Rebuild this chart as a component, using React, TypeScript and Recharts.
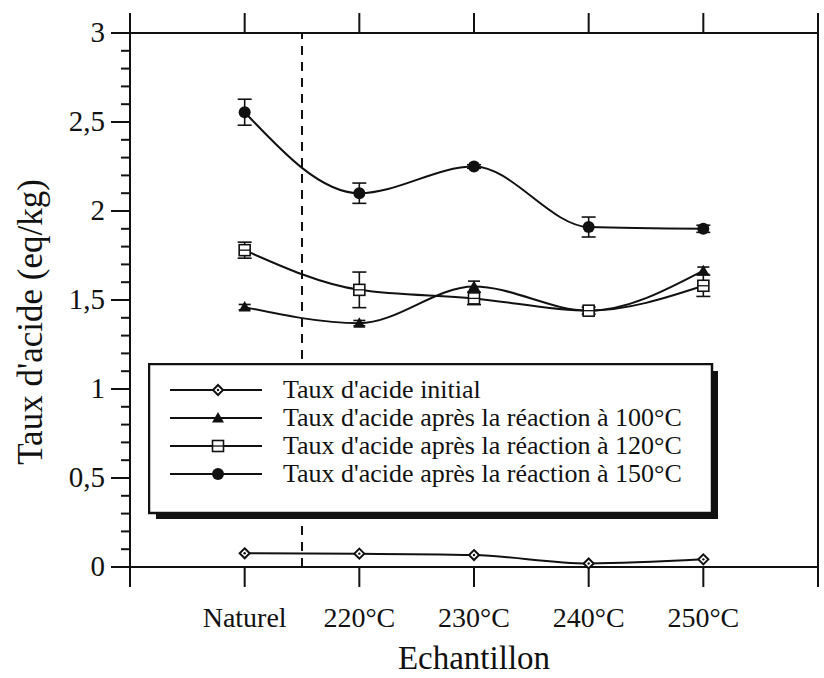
import React from "react";
import {
	LineChart,
	Line,
	XAxis,
	YAxis,
	ErrorBar,
	ReferenceLine,
	Legend,
} from "recharts";

// Samples on the x axis (placed at 1..5, axis runs 0..6)
const categories = ["Naturel", "220°C", "230°C", "240°C", "250°C"];

// Acid content (eq/kg)
const initial = [0.077, 0.075, 0.067, 0.02, 0.043];
const after100 = [1.46, 1.37, 1.576, 1.44, 1.665];
const after100Err = [0.015, 0.015, 0.03, 0.015, 0.02];
const after120 = [1.78, 1.557, 1.509, 1.44, 1.58];
const after120Err = [0.045, 0.1, 0.035, 0.02, 0.06];
const after150 = [2.555, 2.1, 2.25, 1.91, 1.9];
const after150Err = [0.073, 0.057, 0.01, 0.056, 0.02];

const seriesNames = [
	"Taux d'acide initial",
	"Taux d'acide après la réaction à 100°C",
	"Taux d'acide après la réaction à 120°C",
	"Taux d'acide après la réaction à 150°C",
];

const xTicks = [0, 1, 2, 3, 4, 5, 6];
const yMajor = [0, 0.5, 1, 1.5, 2, 2.5, 3];
const yTicks = Array.from({ length: 31 }, (_, i) => i / 10);

const data = categories.map((c, i) => ({
	x: i + 1,
	name: c,
	initial: initial[i],
	r100: after100[i],
	r100e: after100Err[i],
	r120: after120[i],
	r120e: after120Err[i],
	r150: after150[i],
	r150e: after150Err[i],
}));

const FONT = "'Liberation Serif', 'Times New Roman', serif";
const INK = "#111";

const isMajor = (v: number) => yMajor.some((m) => Math.abs(m - v) < 1e-6);
const fmt = (v: number) => String(v).replace(".", ",");

type Shape = "diamond" | "triangle" | "square" | "circle";

function Marker({ cx, cy, shape }: { cx: number; cy: number; shape: Shape }) {
	if (cx == null || cy == null) return null;
	switch (shape) {
		case "diamond":
			return (
				<g>
					<polygon
						points={`${cx},${cy - 5} ${cx + 5},${cy} ${cx},${cy + 5} ${cx - 5},${cy}`}
						fill="#fff"
						stroke={INK}
						strokeWidth={2}
					/>
					<circle cx={cx} cy={cy} r={1.2} fill={INK} />
				</g>
			);
		case "triangle":
			return (
				<polygon
					points={`${cx},${cy - 6} ${cx - 6},${cy + 4.5} ${cx + 6},${cy + 4.5}`}
					fill={INK}
				/>
			);
		case "square":
			return (
				<g>
					<rect x={cx - 5.5} y={cy - 5.5} width={11} height={11} fill="#fff" stroke={INK} strokeWidth={1.6} />
					<line x1={cx - 5.5} x2={cx + 5.5} y1={cy} y2={cy} stroke={INK} strokeWidth={1.3} />
				</g>
			);
		default:
			return <circle cx={cx} cy={cy} r={6} fill={INK} />;
	}
}

const shapes: Shape[] = ["diamond", "triangle", "square", "circle"];

function dotFor(shape: Shape) {
	return (p: any) => <Marker key={`${shape}-${p.index}`} cx={p.cx} cy={p.cy} shape={shape} />;
}

function LeftTick(props: any) {
	const { x, y, payload } = props;
	const v = payload.value as number;
	const major = isMajor(v);
	const len = major ? 19 : 9;
	return (
		<g>
			<line x1={x - len} x2={x} y1={y} y2={y} stroke={INK} strokeWidth={2} />
			{major && (
				<text x={x - 25} y={y + 9} textAnchor="end" fontFamily={FONT} fontSize={29} fill={INK}>
					{fmt(v)}
				</text>
			)}
		</g>
	);
}

function RightTick(props: any) {
	const { x, y, payload } = props;
	const len = isMajor(payload.value) ? 19 : 9;
	return <line x1={x} x2={x + len} y1={y} y2={y} stroke={INK} strokeWidth={2} />;
}

function BottomTick(props: any) {
	const { x, y, payload } = props;
	const v = payload.value as number;
	const label = categories[v - 1];
	return (
		<g>
			<line x1={x} x2={x} y1={y} y2={y + 20} stroke={INK} strokeWidth={2} />
			{label && (
				<text x={x} y={y + 60} textAnchor="middle" fontFamily={FONT} fontSize={28} fill={INK}>
					{label}
				</text>
			)}
		</g>
	);
}

function TopTick(props: any) {
	const { x, y } = props;
	return <line x1={x} x2={x} y1={y - 20} y2={y} stroke={INK} strokeWidth={2} />;
}

function XTitle(props: any) {
	const { viewBox } = props;
	return (
		<text
			x={viewBox.x + viewBox.width / 2}
			y={viewBox.y + viewBox.height - 9}
			textAnchor="middle"
			fontFamily={FONT}
			fontSize={33}
			fill={INK}
		>
			Echantillon
		</text>
	);
}

function YTitle(props: any) {
	const { viewBox } = props;
	const cx = viewBox.x + 42;
	const cy = viewBox.y + viewBox.height / 2 + 22;
	return (
		<text
			x={cx}
			y={cy}
			transform={`rotate(-90 ${cx} ${cy})`}
			textAnchor="middle"
			fontFamily={FONT}
			fontSize={35}
			fill={INK}
		>
			Taux d'acide (eq/kg)
		</text>
	);
}

function LegendBox() {
	const w = 564;
	const h = 150;
	const s = 6;
	const rows = [390, 418, 446, 474].map((r) => r - 363);
	return (
		<svg width={w + s + 2} height={h + s + 2} style={{ display: "block" }}>
			<polygon
				points={`${w},${s + 2} ${w + s},${s + 2} ${w + s},${h + s} ${s + 2},${h + s} ${s + 2},${h} ${w},${h}`}
				fill={INK}
			/>
			<rect x={1} y={1} width={w - 1} height={h - 1} fill="#fff" stroke={INK} strokeWidth={2.5} />
			{seriesNames.map((n, i) => (
				<g key={n}>
					<line x1={22} x2={114} y1={rows[i]} y2={rows[i]} stroke={INK} strokeWidth={2} />
					<Marker cx={70} cy={rows[i]} shape={shapes[i]} />
					<text x={135} y={rows[i] + 8} fontFamily={FONT} fontSize={26} fill={INK}>
						{n}
					</text>
				</g>
			))}
		</svg>
	);
}

export default function App() {
	return (
		<div style={{ position: "absolute", left: 0, top: 0, width: 824, height: 678, background: "#fff" }}>
			<LineChart width={824} height={678} data={data} margin={{ top: 0, right: 0, bottom: 0, left: 0 }}>
				<XAxis
					xAxisId={0}
					dataKey="x"
					type="number"
					domain={[0, 6]}
					ticks={xTicks}
					interval={0}
					height={111}
					tickSize={0}
					tickMargin={0}
					tickLine={false}
					tick={<BottomTick />}
					axisLine={{ stroke: INK, strokeWidth: 2 }}
					label={<XTitle />}
				/>
				<XAxis
					xAxisId="t"
					dataKey="x"
					type="number"
					orientation="top"
					domain={[0, 6]}
					ticks={xTicks}
					interval={0}
					height={33}
					tickSize={0}
					tickMargin={0}
					tickLine={false}
					tick={<TopTick />}
					axisLine={{ stroke: INK, strokeWidth: 2 }}
				/>
				<YAxis
					yAxisId={0}
					type="number"
					domain={[0, 3]}
					ticks={yTicks}
					interval={0}
					width={130}
					tickSize={0}
					tickMargin={0}
					tickLine={false}
					tick={<LeftTick />}
					axisLine={{ stroke: INK, strokeWidth: 2 }}
					label={<YTitle />}
				/>
				<YAxis
					yAxisId="r"
					type="number"
					orientation="right"
					domain={[0, 3]}
					ticks={yTicks}
					interval={0}
					width={6}
					tickSize={0}
					tickMargin={0}
					tickLine={false}
					tick={<RightTick />}
					axisLine={{ stroke: INK, strokeWidth: 2 }}
				/>
				<ReferenceLine
					x={1.5}
					segment={[
						{ x: 1.5, y: 0 },
						{ x: 1.5, y: 2.96 },
					]}
					stroke={INK}
					strokeWidth={2}
					strokeDasharray="9 7"
				/>
				<Line
					name={seriesNames[0]}
					dataKey="initial"
					type="monotone"
					stroke={INK}
					strokeWidth={2}
					dot={dotFor("diamond")}
					isAnimationActive={false}
				/>
				<Line
					name={seriesNames[1]}
					dataKey="r100"
					type="monotone"
					stroke={INK}
					strokeWidth={2}
					dot={dotFor("triangle")}
					isAnimationActive={false}
				>
					<ErrorBar dataKey="r100e" width={6} stroke={INK} strokeWidth={1.6} direction="y" />
				</Line>
				<Line
					name={seriesNames[2]}
					dataKey="r120"
					type="monotone"
					stroke={INK}
					strokeWidth={2}
					dot={dotFor("square")}
					isAnimationActive={false}
				>
					<ErrorBar dataKey="r120e" width={7} stroke={INK} strokeWidth={1.6} direction="y" />
				</Line>
				<Line
					name={seriesNames[3]}
					dataKey="r150"
					type="monotone"
					stroke={INK}
					strokeWidth={2}
					dot={dotFor("circle")}
					isAnimationActive={false}
				>
					<ErrorBar dataKey="r150e" width={7} stroke={INK} strokeWidth={1.6} direction="y" />
				</Line>
				<Legend
					layout="vertical"
					align="center"
					verticalAlign="middle"
					content={() => <LegendBox />}
					wrapperStyle={{ position: "absolute", left: 148, top: 363, width: 574, height: 160 }}
				/>
			</LineChart>
		</div>
	);
}
